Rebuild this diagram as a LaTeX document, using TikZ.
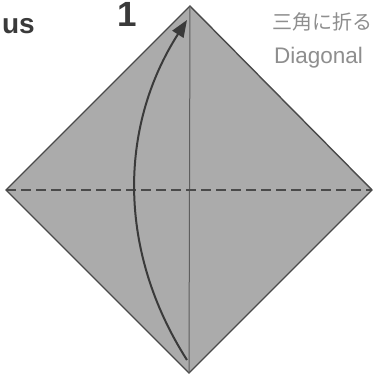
\documentclass[tikz,border=0pt]{standalone}
\usepackage{fontspec}
\setsansfont{Liberation Sans}
\newfontfamily\jpfont{Noto Sans CJK JP}
\usepackage{xcolor}
\usetikzlibrary{arrows.meta,positioning,calc}
\definecolor{papergray}{HTML}{ABABAB}
\definecolor{edgegray}{HTML}{4A4A4A}
\definecolor{creasegray}{HTML}{5E5E5E}
\definecolor{titledark}{HTML}{3A3A3A}
\definecolor{notegray}{HTML}{8E8E8E}

\begin{document}
\begin{tikzpicture}[
  x=1pt, y=-1pt,
  sheet/.style={draw=edgegray, fill=papergray, line width=1.4pt, line join=miter},
  valley/.style={draw=edgegray, line width=2.6pt, dash pattern=on 10pt off 5pt},
  crease/.style={draw=creasegray, line width=1pt},
  foldarr/.style={-{Triangle[length=17pt, width=13pt]}, draw=titledark, line width=2pt},
  title/.style={font=\sffamily\bfseries\fontsize{28}{30}\selectfont, text=titledark, inner sep=0pt},
  stepno/.style={font=\sffamily\bfseries\fontsize{35}{37}\selectfont, text=titledark, inner sep=0pt},
  note/.style={font=\jpfont\fontsize{20}{22}\selectfont, text=notegray, inner sep=0pt}
]
\clip (0,0) rectangle (374,380);
\fill[white] (0,0) rectangle (374,380);

% the square, point up
\coordinate (top) at (190,6);
\coordinate (right) at (372,190);
\coordinate (bottom) at (189,373);
\coordinate (left) at (6,190);
\path[sheet] (top) -- (right) -- (bottom) -- (left) -- cycle;

\draw[crease] (top) -- (bottom);
\draw[valley] (left) -- (right);

% fold bottom corner up
\coordinate (from) at (187,360);
\coordinate (to) at (187,20);
\draw[foldarr] (from) .. controls (118,252) and (118,128) .. (to);

\node[title, anchor=base east] (name) at (35,33) {us};
\node[stepno, anchor=base west] (num) at (117,27) {1};
\node[note, anchor=base west] (jp) at (272,29) {三角に折る};
\node[note, font=\sffamily\fontsize{22.5}{24}\selectfont, anchor=base west] (en) at (274,63) {Diagonal};
\end{tikzpicture}
\end{document}
